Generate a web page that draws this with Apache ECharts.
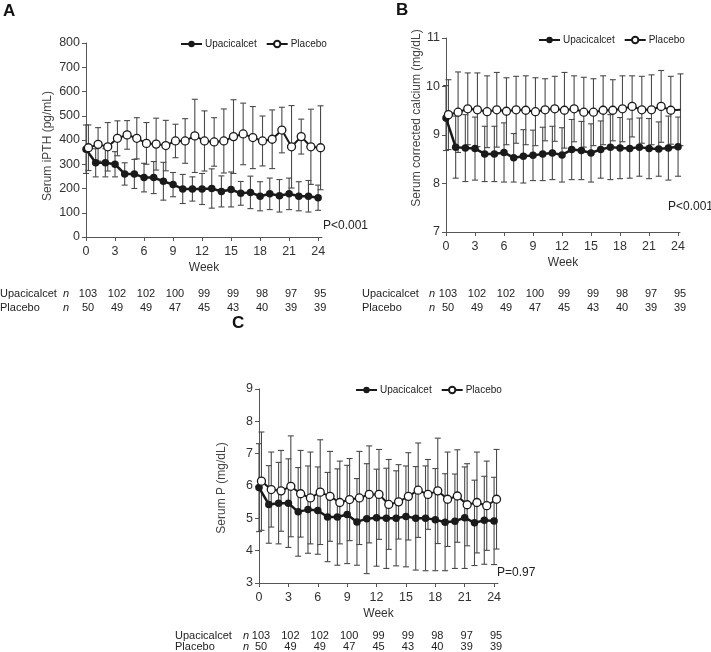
<!DOCTYPE html>
<html>
<head>
<meta charset="utf-8">
<script src="https://cdn.jsdelivr.net/npm/echarts@6/dist/echarts.min.js"></script>
<style>
html,body{margin:0;padding:0;background:#fff;}
#chart{width:711px;height:652px;}
</style>
</head>
<body>
<div id="chart"></div>
<script>
// ---------------- DATA ----------------
const weeks = [0,1,2,3,4,5,6,7,8,9,10,11,12,13,14,15,16,17,18,19,20,21,22,23,24];
const tickWeeks = [0,3,6,9,12,15,18,21,24];
const seriesNames = ['Upacicalcet', 'Placebo'];

// Panel A: Serum iPTH (pg/mL)
const ipthUpaMean = [362,306,306,300,260,260,245,245,230,216,198,198,198,200,188,196,180,184,168,178,170,178,168,168,162];
const ipthUpaSD   = [100,58,58,52,46,60,59,66,78,50,60,50,64,81,64,72,49,67,60,65,67,65,60,65,52];
const ipthPlaMean = [368,382,372,407,421,407,386,383,377,396,396,417,396,392,396,414,425,410,396,403,441,372,414,372,368];
const ipthPlaSD   = [94,69,100,72,59,85,86,107,104,69,92,151,124,100,132,152,127,128,103,121,94,170,72,155,173];

// Panel B: Serum corrected calcium (mg/dL)
const caUpaMean = [9.35,8.75,8.73,8.72,8.61,8.61,8.64,8.53,8.56,8.58,8.61,8.63,8.59,8.70,8.68,8.63,8.70,8.75,8.73,8.72,8.75,8.72,8.71,8.73,8.76];
const caUpaSD   = [0.67,0.64,0.69,0.65,0.57,0.57,0.61,0.50,0.55,0.52,0.55,0.55,0.56,0.62,0.60,0.60,0.59,0.67,0.63,0.61,0.60,0.62,0.56,0.66,0.61];
const caPlaMean = [9.42,9.47,9.54,9.52,9.48,9.52,9.49,9.52,9.51,9.48,9.52,9.54,9.51,9.54,9.47,9.47,9.51,9.51,9.54,9.59,9.52,9.52,9.59,9.51,9.52];
const caPlaSD   = [0.72,0.83,0.74,0.76,0.74,0.77,0.69,0.69,0.71,0.70,0.64,0.67,0.78,0.68,0.72,0.69,0.71,0.63,0.68,0.63,0.69,0.72,0.74,0.70,0.74];

// Panel C: Serum P (mg/dL)
const pUpaMean = [5.95,5.43,5.47,5.47,5.20,5.27,5.24,5.04,5.04,5.12,4.89,4.99,5.02,5.00,5.00,5.06,5.00,5.00,4.96,4.88,4.91,5.02,4.86,4.94,4.92];
const pUpaSD   = [1.36,1.20,1.26,1.37,1.37,1.35,1.35,1.38,1.49,1.52,1.34,1.70,1.50,1.55,1.47,1.56,1.60,1.62,1.58,1.50,1.46,1.57,1.32,1.36,1.35];
const pPlaMean = [6.15,5.89,5.85,5.99,5.76,5.63,5.81,5.68,5.49,5.58,5.63,5.74,5.74,5.43,5.51,5.68,5.87,5.74,5.85,5.59,5.69,5.42,5.49,5.39,5.59];
const pPlaSD   = [1.52,1.16,1.25,1.56,1.34,1.42,1.62,1.39,1.28,1.27,1.44,1.50,1.39,1.39,1.15,1.35,1.46,1.08,1.63,1.46,1.43,1.27,1.56,1.38,1.54];

// Number of patients table
const nUpa = [103,102,102,100,99,99,98,97,95];
const nPla = [50,49,49,47,45,43,40,39,39];

const panelLetters = ['A','B','C'];
const yTitles = ['Serum iPTH (pg/mL)','Serum corrected calcium (mg/dL)','Serum P (mg/dL)'];
const pTexts = ['P<0.001','P<0.001','P=0.97'];
const xTitle = 'Week';

// ---------------- STYLE / LAYOUT ----------------
const FONT = 'Liberation Sans, Arial, sans-serif';
const PLA_OFFSET = 0.25;
const INK = '#1a1a1a';
const ERR = '#4a4a4a';

const panels = [
  {grid:{left:86, top:43, width:236, height:194}, xmax:24.4, y:{min:0,max:800,interval:100},
   um:ipthUpaMean, us:ipthUpaSD, pm:ipthPlaMean, ps:ipthPlaSD,
   legend:{left:175, top:34}, yTitle:[48,146], letter:[3,3], pPos:[323,220], tableX:[0,63], tableY:[294,308]},
  {grid:{left:446, top:38, width:234, height:194}, xmax:24.2, y:{min:7,max:11,interval:1},
   um:caUpaMean, us:caUpaSD, pm:caPlaMean, ps:caPlaSD,
   legend:{left:533, top:30}, yTitle:[417,118], letter:[396,2], pPos:[668,201], tableX:[362,429], tableY:[294,308]},
  {grid:{left:259, top:389, width:239, height:194}, xmax:24.4, y:{min:3,max:9,interval:1},
   um:pUpaMean, us:pUpaSD, pm:pPlaMean, ps:pPlaSD,
   legend:{left:350, top:380}, yTitle:[222,488], letter:[232,315], pPos:[497,567], tableX:[175,243], tableY:[636,647]}
];

function errRender(params, api) {
  const x = api.value(0), lo = api.value(1), hi = api.value(2);
  const a = api.coord([x, lo]), b = api.coord([x, hi]);
  const w = 3;
  const st = {stroke: ERR, lineWidth: 1.1};
  return {type:'group', children:[
    {type:'line', shape:{x1:a[0], y1:a[1], x2:b[0], y2:b[1]}, style:st},
    {type:'line', shape:{x1:a[0]-w, y1:a[1], x2:a[0]+w, y2:a[1]}, style:st},
    {type:'line', shape:{x1:b[0]-w, y1:b[1], x2:b[0]+w, y2:b[1]}, style:st}
  ]};
}

const grids = [], xAxes = [], yAxes = [], series = [], legends = [];
panels.forEach((p, k) => {
  grids.push(Object.assign({containLabel:false}, p.grid));
  xAxes.push({
    type:'value', gridIndex:k, min:0, max:p.xmax,
    name: xTitle, nameLocation:'middle', nameGap:25,
    nameTextStyle:{fontFamily:FONT, fontSize:12, color:'#333'},
    axisLine:{lineStyle:{color:'#555', width:1}},
    axisTick:{show:true, length:4, lineStyle:{color:'#555'}, customValues: tickWeeks},
    axisLabel:{fontFamily:FONT, fontSize:12.5, color:'#333', margin:8, customValues: tickWeeks},
    splitLine:{show:false}
  });
  yAxes.push({
    type:'value', gridIndex:k, min:p.y.min, max:p.y.max, interval:p.y.interval,
    axisLine:{show:true, lineStyle:{color:'#555', width:1}},
    axisTick:{show:true, length:4, lineStyle:{color:'#555'}},
    axisLabel:{fontFamily:FONT, fontSize:12.5, color:'#333', margin:6},
    splitLine:{show:false}
  });
  series.push({
    type:'custom', name:'err-upa-'+k, xAxisIndex:k, yAxisIndex:k, renderItem:errRender, silent:true, z:1,
    encode:{x:0, y:[1,2]},
    data: weeks.map((w,i)=>[w, p.um[i]-p.us[i], p.um[i]+p.us[i]])
  });
  series.push({
    type:'custom', name:'err-pla-'+k, xAxisIndex:k, yAxisIndex:k, renderItem:errRender, silent:true, z:1,
    encode:{x:0, y:[1,2]},
    data: weeks.map((w,i)=>[w+PLA_OFFSET, p.pm[i]-p.ps[i], p.pm[i]+p.ps[i]])
  });
  series.push({
    type:'line', name:seriesNames[0], xAxisIndex:k, yAxisIndex:k, z:3,
    data: weeks.map((w,i)=>[w, p.um[i]]),
    symbol:'circle', symbolSize:7.5, showAllSymbol:true,
    lineStyle:{color:INK, width:2.5}, itemStyle:{color:INK}
  });
  series.push({
    type:'line', name:seriesNames[1], xAxisIndex:k, yAxisIndex:k, z:4,
    data: weeks.map((w,i)=>[w+PLA_OFFSET, p.pm[i]]),
    symbol:'circle', symbolSize:8, showAllSymbol:true,
    lineStyle:{color:INK, width:2}, itemStyle:{color:'#fff', borderColor:INK, borderWidth:1.3}
  });
  legends.push({
    left:p.legend.left, top:p.legend.top, data:seriesNames, orient:'horizontal',
    itemWidth:21, itemHeight:8, itemGap:9, selectedMode:false,
    textStyle:{fontFamily:FONT, fontSize:10, color:'#222', padding:[0,0,0,-2]}
  });
});

const chart = echarts.init(document.getElementById('chart'), null, {renderer:'canvas'});
chart.setOption({
  backgroundColor:'#fff',
  animation:false,
  grid:grids, xAxis:xAxes, yAxis:yAxes, series:series, legend:legends
});

// Text annotations; table columns placed through the x-axis scale
const graphics = [];
panels.forEach((p, k) => {
  graphics.push({type:'text', x:p.letter[0], y:p.letter[1],
    style:{text:panelLetters[k], font:'bold 17px '+FONT, fill:'#111'}});
  graphics.push({type:'text', x:p.yTitle[0], y:p.yTitle[1], rotation:Math.PI/2,
    style:{text:yTitles[k], font:'12px '+FONT, fill:'#444', align:'center', verticalAlign:'middle'}});
  graphics.push({type:'text', x:p.pPos[0], y:p.pPos[1],
    style:{text:pTexts[k], font:'12px '+FONT, fill:'#222'}});
  const rows = [[seriesNames[0], nUpa], [seriesNames[1], nPla]];
  rows.forEach((r, ri) => {
    const yy = p.tableY[ri];
    graphics.push({type:'text', x:p.tableX[0], y:yy,
      style:{text:r[0], font:'11px '+FONT, fill:'#222', verticalAlign:'middle'}});
    graphics.push({type:'text', x:p.tableX[1], y:yy,
      style:{text:'n', font:'italic 11px '+FONT, fill:'#222', verticalAlign:'middle'}});
    tickWeeks.forEach((w, j) => {
      const px = chart.convertToPixel({xAxisIndex:k}, w);
      graphics.push({type:'text', x:px+2, y:yy,
        style:{text:String(r[1][j]), font:'11px '+FONT, fill:'#222', align:'center', verticalAlign:'middle'}});
    });
  });
});
chart.setOption({graphic:graphics});
</script>
</body>
</html>
